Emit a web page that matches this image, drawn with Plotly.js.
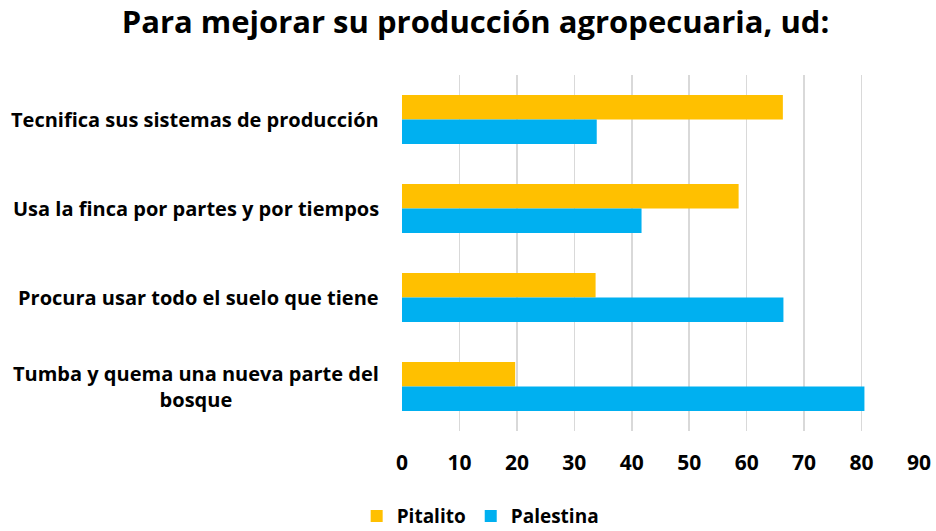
<!DOCTYPE html>
<html>
<head>
<meta charset="utf-8">
<script src="https://cdn.plot.ly/plotly-3.0.1.min.js"></script>
<style>html,body{margin:0;padding:0;background:#fff;}#chart{width:936px;height:531px;}</style>
</head>
<body>
<div id="chart"></div>
<script>
const categories = [
  "Tecnifica sus sistemas de producción",
  "Usa la finca por partes y por tiempos",
  "Procura usar todo el suelo que tiene",
  "Tumba y quema una nueva parte del<br>bosque"
];
const pitalito = [66.3, 58.6, 33.7, 19.7];
const palestina = [33.9, 41.7, 66.4, 80.5];
const seriesNames = ["Pitalito", "Palestina"];
const xTicks = [0, 10, 20, 30, 40, 50, 60, 70, 80, 90];

const FONT = "Open Sans, sans-serif";

const traces = [
  {type: "bar", orientation: "h", name: seriesNames[0], y: categories, x: pitalito,
   marker: {color: "#FFC000"}, hoverinfo: "x"},
  {type: "bar", orientation: "h", name: seriesNames[1], y: categories, x: palestina,
   marker: {color: "#00B0F0"}, hoverinfo: "x"}
];

const annotations = categories.map(c => ({
  xref: "paper", yref: "y", x: 0, y: c, xanchor: "right", yanchor: "middle",
  xshift: -21, text: c, showarrow: false, align: "center",
  font: {family: FONT, size: 20, color: "#000", weight: "bold"}
}));

const layout = {
  width: 936, height: 531,
  margin: {l: 402, r: 17, t: 75, b: 100},
  paper_bgcolor: "#fff", plot_bgcolor: "#fff",
  barmode: "group", bargap: 0.45, bargroupgap: 0,
  title: {text: "Para mejorar su producción agropecuaria, ud:",
          font: {family: FONT, size: 31, color: "#000", weight: "bold"},
          xref: "container", x: 0.508, xanchor: "center",
          yref: "container", y: 0.958, yanchor: "middle"},
  xaxis: {range: [0, 90], tickvals: xTicks, ticktext: xTicks.map(String),
          showgrid: true, gridcolor: "#d9d9d9", gridwidth: 1.5,
          zeroline: false, showline: false, ticks: "",
          ticklabelstandoff: 17,
          tickfont: {family: FONT, size: 21, color: "#000", weight: "bold"}},
  yaxis: {autorange: "reversed", showticklabels: false, showgrid: false,
          zeroline: false, showline: false, ticks: ""},
  annotations: annotations,
  showlegend: true,
  legend: {orientation: "h", xref: "container", yref: "container",
           x: 0.513, xanchor: "center", y: 0.028, yanchor: "middle",
           font: {family: FONT, size: 19, color: "#000", weight: "bold"},
           traceorder: "normal", itemwidth: 30},
  font: {family: FONT}
};

Plotly.newPlot("chart", traces, layout, {displayModeBar: false, staticPlot: true});
</script>
</body>
</html>
